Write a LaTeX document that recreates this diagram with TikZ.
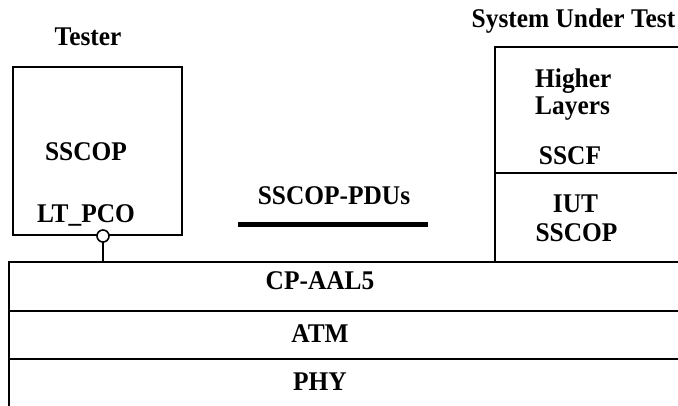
\documentclass[tikz,border=0pt]{standalone}
\usepackage{fontspec}
\setmainfont[FakeStretch=0.94]{Liberation Serif}
\begin{document}
\begin{tikzpicture}[x=1pt,y=-1pt,
  lbl/.style={font=\fontsize{27}{32}\bfseries\selectfont, inner sep=0pt, anchor=base},
  lblw/.style={lbl, anchor=base west},
  frame/.style={draw=black, line width=2pt},
  pdu/.style={draw=black, line width=5pt},
  pcostyle/.style={circle, draw=black, line width=1.6pt, fill=white, minimum size=12pt, inner sep=0pt}]
\useasboundingbox (0,0) rectangle (678,406);

% Tester box
\node[frame, minimum width=169pt, minimum height=168pt, outer sep=0pt, inner sep=0pt] (tester) at (97.5,151) {};
\node[lbl] (testerlbl) at (88,46) {Tester};
\node[lbl] (tsscop) at (86,161) {SSCOP};
\node[lbl] (ltpco) at (86,223) {LT\_PCO};

% Layers
\coordinate (ltop) at (9,262);
\coordinate (rtop) at (678,262);
\coordinate (lmid1) at (9,311);
\coordinate (rmid1) at (678,311);
\coordinate (lmid2) at (9,359);
\coordinate (rmid2) at (678,359);
\coordinate (lbot) at (9,406);
\draw[frame] (lbot) -- (ltop) -- (rtop);
\draw[frame] (lmid1) -- (rmid1);
\draw[frame] (lmid2) -- (rmid2);
\node[lbl] (aal) at (320,290) {CP-AAL5};
\node[lbl] (atm) at (320,343) {ATM};
\node[lbl] (phy) at (320,390) {PHY};

% PCO connector
\coordinate (pcofoot) at (103,262);
\draw[frame] (103,236) -- (pcofoot);
\node[pcostyle] (pco) at (103,236) {};

% SUT box
\coordinate (sutbl) at (495,262);
\coordinate (suttl) at (495,47);
\coordinate (suttr) at (678,47);
\coordinate (sutdl) at (495,173);
\coordinate (sutdr) at (677,173);
\draw[frame] (sutbl) -- (suttl) -- (suttr);
\draw[line width=1.2pt] (sutdl) -- (sutdr);
\node[lbl] (sutlbl) at (573.5,28) {System Under Test};
\node[lblw] (higher) at (535,88) {Higher};
\node[lblw] (layers) at (535,115) {Layers};
\node[lbl] (sscf) at (570,165) {SSCF};
\node[lbl] (iut) at (575.5,213) {IUT};
\node[lbl] (isscop) at (576.5,242) {SSCOP};

% PDUs
\node[lbl] (pdus) at (334,205) {SSCOP-PDUs};
\coordinate (pdul) at (238,225);
\coordinate (pdur) at (428,225);
\draw[pdu] (pdul) -- (pdur);
\end{tikzpicture}
\end{document}
